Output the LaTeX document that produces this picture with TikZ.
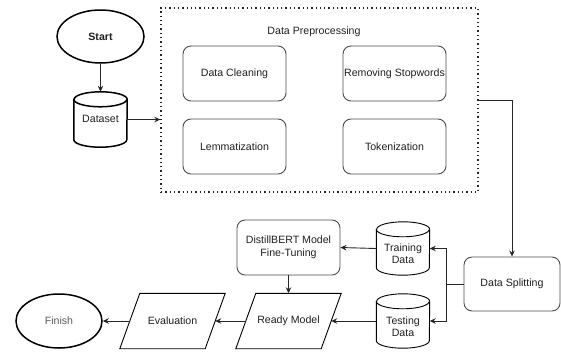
\documentclass[tikz,border=0pt]{standalone}
\usepackage{fontspec}
\setmainfont{Liberation Sans}
\usetikzlibrary{arrows.meta,shapes.geometric}
\tikzset{
  txt/.style={font=\fontsize{10.6}{12.5}\selectfont, text=black!88},
  thickline/.style={line width=1.5pt, draw=black},
  rbox/.style={txt, draw=black!70, line width=0.9pt, rounded corners=8pt, minimum width=103pt, minimum height=55pt, inner sep=0pt, align=center},
  ghost/.style={txt, inner sep=0pt, align=center},
  arr/.style={draw=black!85, line width=0.9pt, -{Stealth[length=6pt,width=5.5pt]}},
  conn/.style={draw=black!85, line width=0.9pt},
}
\newcommand\mycyl[2]{%
  \draw[#2] ([yshift=-7.5pt]#1.north west) -- ([yshift=7.5pt]#1.south west)
    arc[start angle=180,end angle=360,x radius=26.5pt,y radius=7.5pt]
    -- ([yshift=-7.5pt]#1.north east)
    arc[start angle=0,end angle=180,x radius=26.5pt,y radius=7.5pt] -- cycle;
  \draw[#2] ([yshift=-7.5pt]#1.north west)
    arc[start angle=180,end angle=360,x radius=26.5pt,y radius=7.5pt];
}
\newcommand\mypara[1]{%
  \draw[draw=black, line width=0.9pt] ([xshift=-10pt]#1.south west) -- ([xshift=-10pt]#1.south east)
    -- ([xshift=10pt]#1.north east) -- ([xshift=10pt]#1.north west) -- cycle;
}
\begin{document}
\begin{tikzpicture}[x=1pt,y=-1pt]
\useasboundingbox (0,0) rectangle (561,351);

% start / dataset
\node[txt, font=\fontsize{10.6}{12.5}\selectfont\bfseries, ellipse, thickline, minimum width=87pt, minimum height=53pt, inner sep=0pt] (start) at (100.5,36.5) {Start};
\node[ghost, minimum width=53pt, minimum height=55pt] (ds) at (100.5,119.5) {};
\mycyl{ds}{thickline}
\node[ghost] (dslbl) at (100.5,118.5) {Dataset};

% preprocessing
\node[draw=black!85, line width=1.3pt, dash pattern=on 1.3pt off 3pt, minimum width=317pt, minimum height=184pt, inner sep=0pt] (pp) at (319.5,100) {};
\node[ghost] (pptitle) at (314,32) {Data Preprocessing};
\node[rbox] (clean) at (234.5,73.5) {Data Cleaning};
\node[rbox] (stop) at (394.5,73.5) {Removing Stopwords};
\node[rbox] (lemma) at (234.5,146.5) {Lemmatization};
\node[rbox] (token) at (394.5,146.5) {Tokenization};

% splitting
\node[rbox, minimum width=96pt, minimum height=54pt] (split) at (512,284) {Data Splitting};
\node[ghost, minimum width=53pt, minimum height=53pt] (train) at (403,248.5) {};
\mycyl{train}{draw=black, line width=0.9pt}
\node[ghost] (trainlbl) at (403,253.5) {Training\\Data};
\node[ghost, minimum width=53pt, minimum height=54pt] (test) at (403,321) {};
\mycyl{test}{draw=black, line width=0.9pt}
\node[ghost] (testlbl) at (403,326.5) {Testing\\Data};

\node[rbox] (bert) at (288.5,247.5) {DistillBERT Model\\Fine-Tuning};
\node[ghost, minimum width=85pt, minimum height=55pt] (ready) at (288.5,321) {Ready Model};
\mypara{ready}
\node[ghost, minimum width=85pt, minimum height=55pt] (eval) at (172.5,321) {Evaluation};
\mypara{eval}
\node[txt, text=black!65, ellipse, thickline, minimum width=86pt, minimum height=54pt, inner sep=0pt] (finish) at (59,321) {Finish};

% connectors
\draw[arr] (start.south) -- (ds.north);
\draw[arr] (ds.east) -- (ds.east -| pp.west);
\draw[arr] (pp.east) -| (split.north);
\coordinate (j) at (446,284);
\draw[conn] (split.west) -- (j);
\draw[arr] (j) |- (train.east);
\draw[arr] (j) |- (test.east);
\draw[arr] (train.west) -- (bert.east);
\draw[arr] (bert.south) -- (ready.north);
\draw[arr] (test.west) -- (ready.east);
\draw[arr] (ready.west) -- (eval.east);
\draw[arr] (eval.west) -- (finish.east);
\end{tikzpicture}
\end{document}
